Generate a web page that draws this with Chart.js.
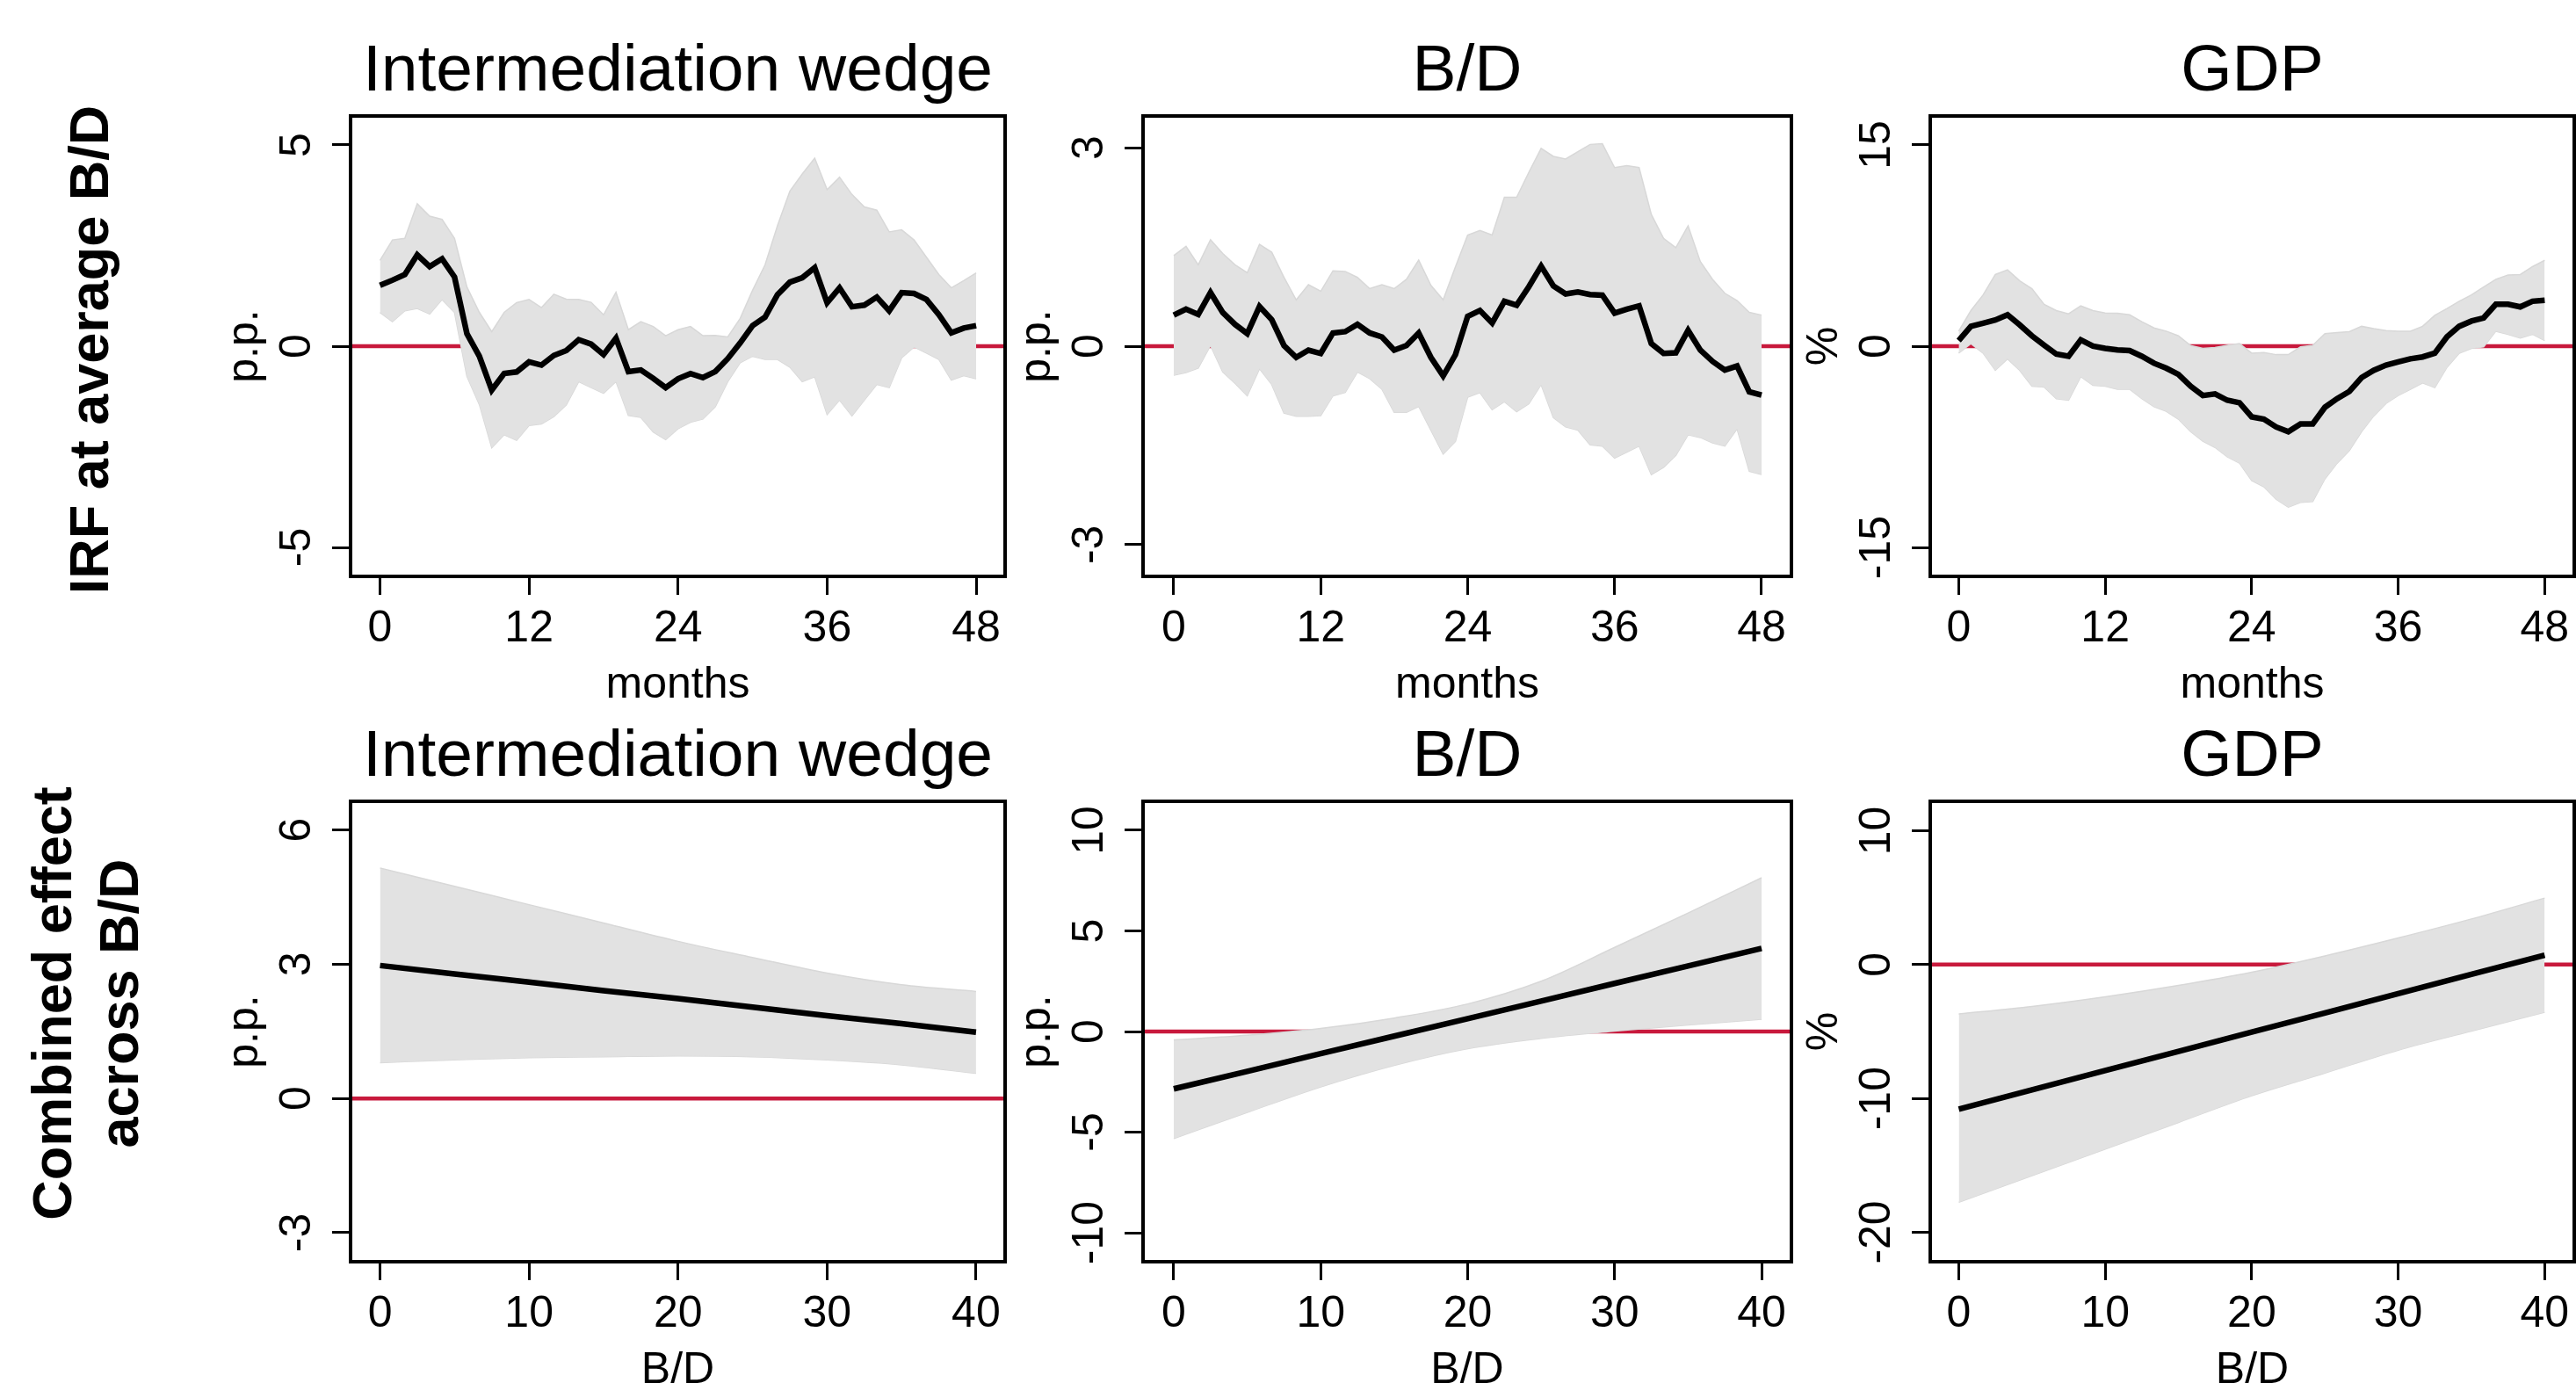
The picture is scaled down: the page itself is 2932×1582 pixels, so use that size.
<!DOCTYPE html>
<html>
<head>
<meta charset="utf-8">
<script src="https://cdn.jsdelivr.net/npm/chart.js@4.4.1/dist/chart.umd.min.js"></script>
<style>
  html, body { margin: 0; padding: 0; background: #fff; }
  body { width: 2932px; height: 1582px; position: relative; overflow: hidden;
         font-family: "Liberation Sans", Arial, Helvetica, sans-serif; }
  canvas { position: absolute; }
  .rowlabel { position: absolute; width: 900px; font-weight: bold; font-size: 63px; line-height: 76px;
              text-align: center; white-space: nowrap; color: #000;
              transform: translate(-50%, -50%) rotate(-90deg); }
</style>
</head>
<body>
<div class="rowlabel" style="left:100.7px; top:397.5px">IRF at average B/D</div>
<div class="rowlabel" style="left:97.2px; top:1142px">Combined effect<br>across B/D</div>
<script>
(() => {
  // --- top row: impulse responses by month ---
  const months = [0, 1, 2, 3, 4, 5, 6, 7, 8, 9, 10, 11, 12, 13, 14, 15, 16, 17, 18, 19, 20, 21, 22, 23, 24,
    25, 26, 27, 28, 29, 30, 31, 32, 33, 34, 35, 36, 37, 38, 39, 40, 41, 42, 43, 44, 45, 46, 47, 48];
  const monthTicks = [0, 12, 24, 36, 48];

  const wedgeIrf = [1.51, 1.64, 1.78, 2.27, 1.98, 2.17, 1.72, 0.31, -0.25, -1.09, -0.68, -0.64, -0.39, -0.47,
    -0.23, -0.11, 0.16, 0.05, -0.21, 0.20, -0.63, -0.59, -0.80, -1.03, -0.81, -0.68, -0.78, -0.63, -0.31, 0.08,
    0.51, 0.72, 1.28, 1.59, 1.70, 1.95, 1.08, 1.45, 0.98, 1.02, 1.22, 0.88, 1.33, 1.31, 1.16, 0.78, 0.33, 0.45, 0.51];
  const wedgeIrfHi = [2.13, 2.64, 2.68, 3.54, 3.23, 3.15, 2.68, 1.47, 0.84, 0.36, 0.84, 1.08, 1.16, 0.96, 1.29,
    1.17, 1.16, 1.09, 0.78, 1.34, 0.41, 0.61, 0.49, 0.26, 0.41, 0.49, 0.26, 0.27, 0.23, 0.69, 1.39, 2.02, 2.99,
    3.85, 4.28, 4.67, 3.89, 4.20, 3.77, 3.46, 3.38, 2.84, 2.89, 2.64, 2.21, 1.78, 1.45, 1.63, 1.82];
  const wedgeIrfLo = [0.84, 0.61, 0.88, 0.94, 0.80, 1.16, 0.84, -0.75, -1.45, -2.52, -2.20, -2.34, -1.97, -1.93,
    -1.75, -1.46, -0.88, -1.03, -1.17, -0.88, -1.72, -1.77, -2.13, -2.32, -2.05, -1.89, -1.81, -1.50, -0.88, -0.41,
    -0.25, -0.33, -0.33, -0.52, -0.88, -0.76, -1.70, -1.34, -1.73, -1.34, -0.95, -1.03, -0.29, -0.02, -0.17,
    -0.33, -0.84, -0.73, -0.81];

  const bdIrf = [0.47, 0.56, 0.48, 0.81, 0.51, 0.33, 0.19, 0.60, 0.40, 0.01, -0.17, -0.06, -0.11, 0.20, 0.22,
    0.33, 0.20, 0.14, -0.06, 0.01, 0.20, -0.17, -0.45, -0.13, 0.45, 0.54, 0.35, 0.68, 0.62, 0.90, 1.21, 0.91,
    0.79, 0.82, 0.78, 0.77, 0.50, 0.56, 0.61, 0.04, -0.11, -0.10, 0.24, -0.06, -0.23, -0.36, -0.30, -0.69, -0.74];
  const bdIrfHi = [1.37, 1.51, 1.23, 1.61, 1.40, 1.23, 1.11, 1.54, 1.42, 1.04, 0.70, 0.93, 0.83, 1.14, 1.13,
    1.04, 0.87, 0.93, 0.87, 1.01, 1.30, 0.92, 0.70, 1.20, 1.68, 1.75, 1.68, 2.25, 2.25, 2.63, 2.99, 2.87, 2.83,
    2.94, 3.05, 3.06, 2.70, 2.73, 2.70, 1.99, 1.63, 1.49, 1.82, 1.28, 1.01, 0.80, 0.69, 0.51, 0.47];
  const bdIrfLo = [-0.44, -0.40, -0.33, 0.01, -0.39, -0.56, -0.75, -0.34, -0.58, -1.01, -1.06, -1.06, -1.05,
    -0.75, -0.70, -0.39, -0.49, -0.65, -1.00, -1.00, -0.91, -1.27, -1.63, -1.44, -0.77, -0.70, -0.96, -0.84,
    -0.99, -0.87, -0.58, -1.08, -1.22, -1.27, -1.49, -1.51, -1.69, -1.60, -1.51, -1.94, -1.83, -1.65, -1.34,
    -1.38, -1.46, -1.51, -1.25, -1.89, -1.94];

  const gdpIrf = [0.42, 1.48, 1.71, 1.95, 2.34, 1.59, 0.77, 0.07, -0.59, -0.75, 0.47, 0.00, -0.16, -0.28, -0.33,
    -0.75, -1.27, -1.64, -2.11, -2.98, -3.68, -3.56, -4.03, -4.22, -5.27, -5.44, -6.02, -6.37, -5.79, -5.79,
    -4.55, -3.91, -3.37, -2.34, -1.80, -1.41, -1.17, -0.94, -0.80, -0.52, 0.70, 1.48, 1.87, 2.11, 3.12, 3.12,
    2.93, 3.35, 3.42];
  const gdpIrfHi = [1.12, 2.65, 3.82, 5.34, 5.69, 4.87, 4.29, 3.12, 2.65, 2.41, 3.00, 2.65, 2.48, 2.46, 2.34,
    1.83, 1.36, 1.12, 0.77, 0.05, -0.16, -0.10, 0.07, 0.19, -0.52, -0.47, -0.63, -0.63, -0.05, 0.07, 0.94, 1.01,
    1.08, 1.48, 1.31, 1.17, 1.12, 1.12, 1.48, 2.30, 2.81, 3.35, 3.82, 4.41, 4.99, 5.30, 5.34, 5.93, 6.40];
  const gdpIrfLo = [-0.52, 0.19, -0.52, -1.80, -0.94, -1.80, -2.98, -3.05, -3.91, -4.03, -2.27, -2.91, -2.98,
    -3.21, -3.21, -3.91, -4.50, -4.85, -5.44, -6.37, -7.08, -7.55, -8.25, -8.72, -10.01, -10.48, -11.41, -12.00,
    -11.65, -11.58, -9.89, -8.72, -7.78, -6.37, -5.20, -4.27, -3.68, -3.21, -2.74, -3.09, -1.57, -0.52, -0.16,
    -0.05, 1.12, 0.89, 0.61, 0.89, 0.42];

  // --- bottom row: combined effect across B/D ---
  const bdGrid = [0, 5, 10, 15, 20, 25, 30, 35, 40];
  const bdGridTicks = [0, 10, 20, 30, 40];

  const wedgeComb = [2.97, 2.78, 2.60, 2.41, 2.23, 2.04, 1.85, 1.67, 1.48];
  const wedgeCombHi = [5.15, 4.74, 4.33, 3.92, 3.51, 3.15, 2.80, 2.54, 2.39];
  const wedgeCombLo = [0.80, 0.86, 0.91, 0.93, 0.95, 0.93, 0.86, 0.75, 0.56];

  const bdComb = [-2.85, -1.98, -1.10, -0.23, 0.64, 1.51, 2.39, 3.26, 4.13];
  const bdCombHi = [-0.42, -0.19, 0.15, 0.67, 1.37, 2.50, 4.18, 5.89, 7.64];
  const bdCombLo = [-5.32, -4.02, -2.75, -1.68, -0.85, -0.34, 0.02, 0.33, 0.61];

  const gdpComb = [-10.80, -9.36, -7.92, -6.48, -5.04, -3.61, -2.17, -0.73, 0.71];
  const gdpCombHi = [-3.69, -3.13, -2.41, -1.56, -0.57, 0.65, 1.99, 3.41, 4.97];
  const gdpCombLo = [-17.76, -15.77, -13.78, -11.79, -9.80, -8.10, -6.39, -4.97, -3.55];

  const FONT = '"Liberation Sans", Arial, Helvetica, sans-serif';
  const ZERO_COLOR = "#c8193c";
  const BAND_FILL = "rgb(226, 226, 226)";
  const BAND_EDGE = "rgb(216, 216, 216)";

  // space around the plot box inside each canvas
  const YW = 170;
  const PR = 30;
  const XH = 154;
  const HEAD = 118;

  Chart.defaults.font.family = FONT;
  Chart.defaults.color = "#000";

  const panels = [
    { box: [399, 132, 745, 524], title: "Intermediation wedge", xTitle: "months", yTitle: "p.p.",
      xs: months, mid: wedgeIrf, hi: wedgeIrfHi, lo: wedgeIrfLo,
      xRange: [-2.37, 50.33], yRange: [-5.72, 5.72], xTicks: monthTicks, yTicks: [-5, 0, 5], smooth: false },
    { box: [1301, 132, 738, 524], title: "B/D", xTitle: "months", yTitle: "p.p.",
      xs: months, mid: bdIrf, hi: bdIrfHi, lo: bdIrfLo,
      xRange: [-2.51, 50.44], yRange: [-3.48, 3.48], xTicks: monthTicks, yTicks: [-3, 0, 3], smooth: false },
    { box: [2197, 132, 733, 524], title: "GDP", xTitle: "months", yTitle: "%",
      xs: months, mid: gdpIrf, hi: gdpIrfHi, lo: gdpIrfLo,
      xRange: [-2.33, 50.42], yRange: [-17.16, 17.16], xTicks: monthTicks, yTicks: [-15, 0, 15], smooth: false },
    { box: [399, 912, 745, 524], title: "Intermediation wedge", xTitle: "B/D", yTitle: "p.p.",
      xs: bdGrid, mid: wedgeComb, hi: wedgeCombHi, lo: wedgeCombLo,
      xRange: [-1.98, 41.95], yRange: [-3.65, 6.64], xTicks: bdGridTicks, yTicks: [-3, 0, 3, 6], smooth: true },
    { box: [1301, 912, 738, 524], title: "B/D", xTitle: "B/D", yTitle: "p.p.",
      xs: bdGrid, mid: bdComb, hi: bdCombHi, lo: bdCombLo,
      xRange: [-2.09, 42.03], yRange: [-11.44, 11.44], xTicks: bdGridTicks, yTicks: [-10, -5, 0, 5, 10], smooth: true },
    { box: [2197, 912, 733, 524], title: "GDP", xTitle: "B/D", yTitle: "%",
      xs: bdGrid, mid: gdpComb, hi: gdpCombHi, lo: gdpCombLo,
      xRange: [-1.95, 42.02], yRange: [-22.2, 12.2], xTicks: bdGridTicks, yTicks: [-20, -10, 0, 10], smooth: true }
  ];

  const zeroLine = {
    id: "zeroLine",
    beforeDatasetsDraw(chart) {
      const { ctx, chartArea: a, scales: { y } } = chart;
      const py = y.getPixelForValue(0);
      ctx.save();
      ctx.strokeStyle = ZERO_COLOR;
      ctx.lineWidth = 4.5;
      ctx.beginPath();
      ctx.moveTo(a.left, py);
      ctx.lineTo(a.right, py);
      ctx.stroke();
      ctx.restore();
    }
  };

  // box around the plot and y tick labels written along the axis, as R does
  const frameAndLabels = {
    id: "frameAndLabels",
    afterDraw(chart) {
      const { ctx, chartArea: a, scales: { y } } = chart;
      ctx.save();
      ctx.strokeStyle = "#000";
      ctx.lineWidth = 4;
      ctx.strokeRect(a.left, a.top, a.right - a.left, a.bottom - a.top);
      ctx.fillStyle = "#000";
      ctx.font = "50px " + FONT;
      ctx.textAlign = "center";
      ctx.textBaseline = "alphabetic";
      y.ticks.forEach((tick) => {
        ctx.save();
        ctx.translate(a.left - 46, y.getPixelForValue(tick.value));
        ctx.rotate(-Math.PI / 2);
        ctx.fillText(String(tick.value), 0, 0);
        ctx.restore();
      });
      ctx.restore();
    }
  };

  function toPoints(xs, ys) {
    return xs.map((x, i) => ({ x, y: ys[i] }));
  }

  function makePanel(panel) {
    const [left, top, w, h] = panel.box;
    const canvas = document.createElement("canvas");
    canvas.width = YW + w + PR;
    canvas.height = HEAD + h + XH;
    canvas.style.left = (left - YW) + "px";
    canvas.style.top = (top - HEAD) + "px";
    canvas.style.width = canvas.width + "px";
    canvas.style.height = canvas.height + "px";
    document.body.appendChild(canvas);

    const bandMode = panel.smooth ? "monotone" : "default";
    const tickGrid = { drawOnChartArea: false, drawTicks: true, tickLength: 21, color: "#000", lineWidth: 3 };

    return new Chart(canvas.getContext("2d"), {
      type: "line",
      data: {
        datasets: [
          { data: toPoints(panel.xs, panel.mid), borderColor: "#000", borderWidth: 6.5, pointRadius: 0,
            tension: 0, fill: false, order: 0 },
          { data: toPoints(panel.xs, panel.hi), borderColor: BAND_EDGE, borderWidth: 1.5, backgroundColor: BAND_FILL,
            pointRadius: 0, cubicInterpolationMode: bandMode, tension: 0, fill: "+1", order: 1 },
          { data: toPoints(panel.xs, panel.lo), borderColor: BAND_EDGE, borderWidth: 1.5, pointRadius: 0,
            cubicInterpolationMode: bandMode, tension: 0, fill: false, order: 2 }
        ]
      },
      options: {
        responsive: false,
        devicePixelRatio: 1,
        animation: false,
        events: [],
        layout: { padding: { left: 0, top: 0, right: PR, bottom: 0 } },
        plugins: {
          legend: { display: false },
          tooltip: { enabled: false },
          title: {
            display: true,
            text: panel.title,
            fullSize: false,
            align: "center",
            color: "#000",
            font: { size: 75, weight: "normal" },
            padding: { top: 23, bottom: 5 }
          }
        },
        scales: {
          x: {
            type: "linear",
            min: panel.xRange[0],
            max: panel.xRange[1],
            afterBuildTicks: (scale) => { scale.ticks = panel.xTicks.map((v) => ({ value: v })); },
            afterFit: (scale) => { scale.height = XH; },
            grid: tickGrid,
            border: { display: false },
            ticks: { autoSkip: false, maxRotation: 0, minRotation: 0, padding: 9, color: "#000", font: { size: 50 } },
            title: { display: true, text: panel.xTitle, color: "#000", font: { size: 50 }, padding: { top: 0, bottom: 0 } }
          },
          y: {
            type: "linear",
            min: panel.yRange[0],
            max: panel.yRange[1],
            afterBuildTicks: (scale) => { scale.ticks = panel.yTicks.map((v) => ({ value: v })); },
            afterFit: (scale) => { scale.width = YW; },
            grid: tickGrid,
            border: { display: false },
            ticks: { display: false },
            title: { display: true, text: panel.yTitle, color: "#000", font: { size: 50 },
                     padding: { top: YW - 150, bottom: 0 } }
          }
        }
      },
      plugins: [zeroLine, frameAndLabels]
    });
  }

  panels.forEach(makePanel);
})();
</script>
</body>
</html>
